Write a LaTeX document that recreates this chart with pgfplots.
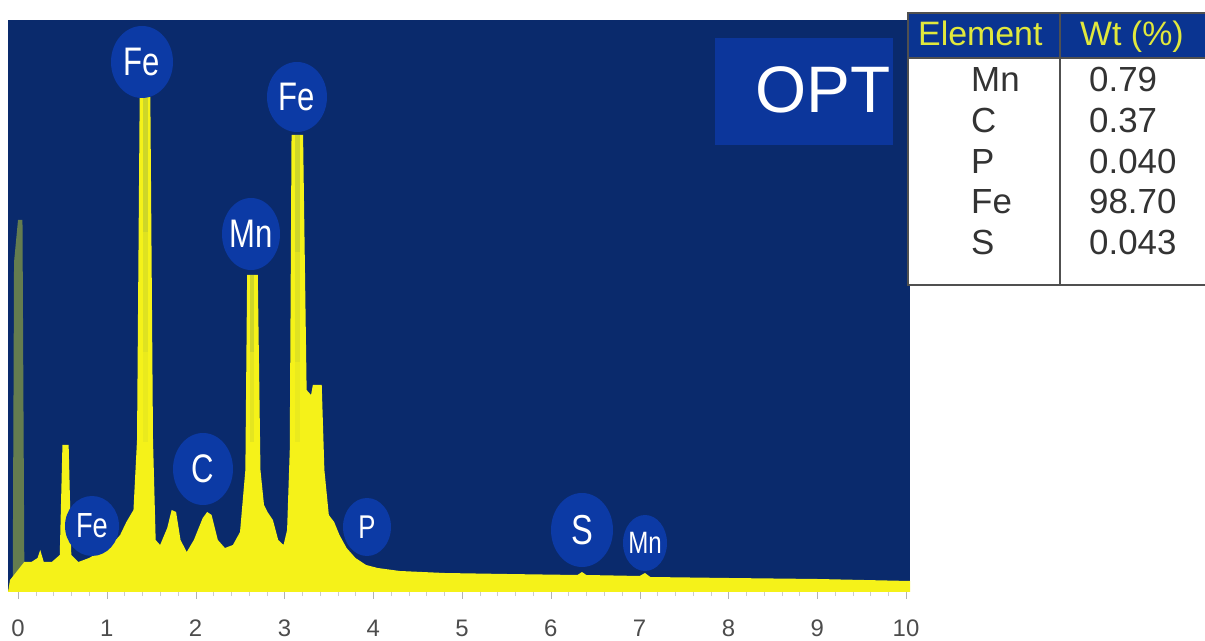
\documentclass[border=0pt]{standalone}
\usepackage{pgfplots}
\pgfplotsset{compat=1.18}
\usepackage{fontspec}
\setmainfont{Liberation Sans}
\usepackage{graphicx}
\definecolor{bg}{RGB}{10,42,108}
\definecolor{circ}{RGB}{12,58,165}
\definecolor{optblue}{RGB}{12,54,155}
\definecolor{hdr}{RGB}{10,52,145}
\definecolor{yel}{RGB}{245,242,25}
\definecolor{stalk}{RGB}{160,180,60}
\definecolor{hdrtxt}{RGB}{225,232,60}
\definecolor{tblline}{RGB}{80,80,80}
\newcommand{\cl}[2]{\fontsize{#1}{#1}\selectfont\scalebox{0.78}[1]{#2}}
\newcommand{\fs}[1]{\fontsize{#1}{#1}\selectfont}
\begin{document}
\begin{tikzpicture}[x=1bp,y=1bp]
\useasboundingbox (0,0) rectangle (1205,641);
\begin{axis}[at={(8bp,49bp)}, anchor=south west, scale only axis,
  width=902bp, height=572bp,
  xmin=-0.113, xmax=10.045, ymin=0, ymax=572,
  axis background/.style={fill=bg},
  axis line style={draw=none},
  ytick=\empty,
  xtick pos=bottom,
  xtick={0,1,2,3,4,5,6,7,8,9,10},
  xticklabels={0,1,2,3,4,5,6,7,8,9,10},
  minor x tick num=4,
  tick align=outside,
  major tick length=7bp, minor tick length=4bp,
  xtick style={draw=gray!60},
  minor x tick style={draw=gray!40},
  xticklabel style={font=\fs{24}, text=gray!60!black, anchor=center, yshift=-29bp},
  clip=false]
\addplot[fill=stalk, draw=none, opacity=0.6] table {
x y
-0.06 0
-0.045 330
0.0 372
0.05 372
0.07 40
0.08 0
} \closedcycle;
\addplot[fill=yel, draw=none] table {
x y
-0.113 0
-0.09 12
0.07 30
0.15 30
0.22 34
0.25 42
0.29 30
0.38 30
0.47 37
0.50 147
0.57 147
0.60 37
0.68 30
0.80 34
0.92 40
1.05 47
1.15 57
1.22 70
1.30 82
1.34 152
1.37 495
1.49 495
1.52 152
1.55 52
1.60 47
1.68 64
1.73 82
1.78 80
1.83 52
1.90 40
1.98 52
2.08 74
2.13 80
2.18 77
2.25 52
2.33 44
2.42 47
2.50 60
2.56 122
2.58 317
2.70 317
2.73 122
2.77 87
2.81 80
2.87 72
2.93 52
2.99 47
3.03 62
3.06 142
3.08 457
3.21 457
3.25 202
3.30 197
3.32 207
3.42 207
3.45 122
3.50 77
3.56 70
3.62 57
3.70 44
3.80 34
3.92 27
4.05 24
4.30 21
4.80 19
5.50 18
6.30 17
6.35 20
6.40 17
7.00 16
7.06 19
7.12 15
8.00 14
9.00 13
10.045 11
} \closedcycle;
% greenish stalk cores, fading downwards
\addplot[draw=stalk, line width=5bp, opacity=0.45] coordinates {(1.43,495) (1.43,360)};
\addplot[draw=stalk, line width=5bp, opacity=0.25] coordinates {(1.43,360) (1.43,240)};
\addplot[draw=stalk, line width=5bp, opacity=0.12] coordinates {(1.43,240) (1.43,150)};
\addplot[draw=stalk, line width=5bp, opacity=0.45] coordinates {(3.145,457) (3.145,340)};
\addplot[draw=stalk, line width=5bp, opacity=0.25] coordinates {(3.145,340) (3.145,230)};
\addplot[draw=stalk, line width=5bp, opacity=0.12] coordinates {(3.145,230) (3.145,150)};
\addplot[draw=stalk, line width=4bp, opacity=0.45] coordinates {(2.64,317) (2.64,240)};
\addplot[draw=stalk, line width=4bp, opacity=0.2] coordinates {(2.64,240) (2.64,150)};
\end{axis}
% peak labels
\fill[circ] (142,641-62) ellipse [x radius=31, y radius=36];
\node[text=white] at (142,641-62) {\cl{40}{Fe}};
\fill[circ] (297,641-97) ellipse [x radius=30, y radius=35];
\node[text=white] at (297,641-97) {\cl{40}{Fe}};
\fill[circ] (251,641-234) ellipse [x radius=29, y radius=36];
\node[text=white] at (251,641-234) {\cl{40}{Mn}};
\fill[circ] (92,641-526) ellipse [x radius=27, y radius=30];
\node[text=white] at (92,641-526) {\cl{35}{Fe}};
\fill[circ] (203,641-469) ellipse [x radius=30, y radius=36];
\node[text=white] at (203,641-469) {\cl{40}{C}};
\fill[circ] (367,641-527) ellipse [x radius=24, y radius=29];
\node[text=white] at (367,641-527) {\cl{33}{P}};
\fill[circ] (582,641-530) ellipse [x radius=31, y radius=37];
\node[text=white] at (582,641-530) {\cl{42}{S}};
\fill[circ] (645,641-543) ellipse [x radius=22, y radius=28];
\node[text=white] at (645,641-543) {\cl{31}{Mn}};
% OPT box
\fill[optblue] (715,641-38) rectangle (893,641-145);
\node[text=white, anchor=base east, inner sep=0pt] at (891,641-113) {\fs{66}OPT};
% table
\fill[white] (908,641-13) rectangle (1210,641-285);
\fill[hdr] (908,641-13) rectangle (1210,641-58);
\draw[tblline, line width=1.5bp] (908,641-13) rectangle (1210,641-285);
\draw[tblline, line width=1.5bp] (908,641-58) -- (1210,641-58);
\draw[tblline, line width=1.5bp] (1060,641-13) -- (1060,641-285);
\node[text=hdrtxt, anchor=base west, inner sep=0pt] at (918,641-46) {\fs{34}Element};
\node[text=hdrtxt, anchor=base west, inner sep=0pt] at (1080,641-46) {\fs{34}Wt (\%)};
\node[text=black!80, anchor=base west, inner sep=0pt] at (971,641-92) {\fs{35}Mn};
\node[text=black!80, anchor=base west, inner sep=0pt] at (971,641-133) {\fs{35}C};
\node[text=black!80, anchor=base west, inner sep=0pt] at (971,641-174) {\fs{35}P};
\node[text=black!80, anchor=base west, inner sep=0pt] at (971,641-214) {\fs{35}Fe};
\node[text=black!80, anchor=base west, inner sep=0pt] at (971,641-255) {\fs{35}S};
\node[text=black!80, anchor=base west, inner sep=0pt] at (1089,641-92) {\fs{35}0.79};
\node[text=black!80, anchor=base west, inner sep=0pt] at (1089,641-133) {\fs{35}0.37};
\node[text=black!80, anchor=base west, inner sep=0pt] at (1089,641-174) {\fs{35}0.040};
\node[text=black!80, anchor=base west, inner sep=0pt] at (1089,641-214) {\fs{35}98.70};
\node[text=black!80, anchor=base west, inner sep=0pt] at (1089,641-255) {\fs{35}0.043};
\end{tikzpicture}
\end{document}
